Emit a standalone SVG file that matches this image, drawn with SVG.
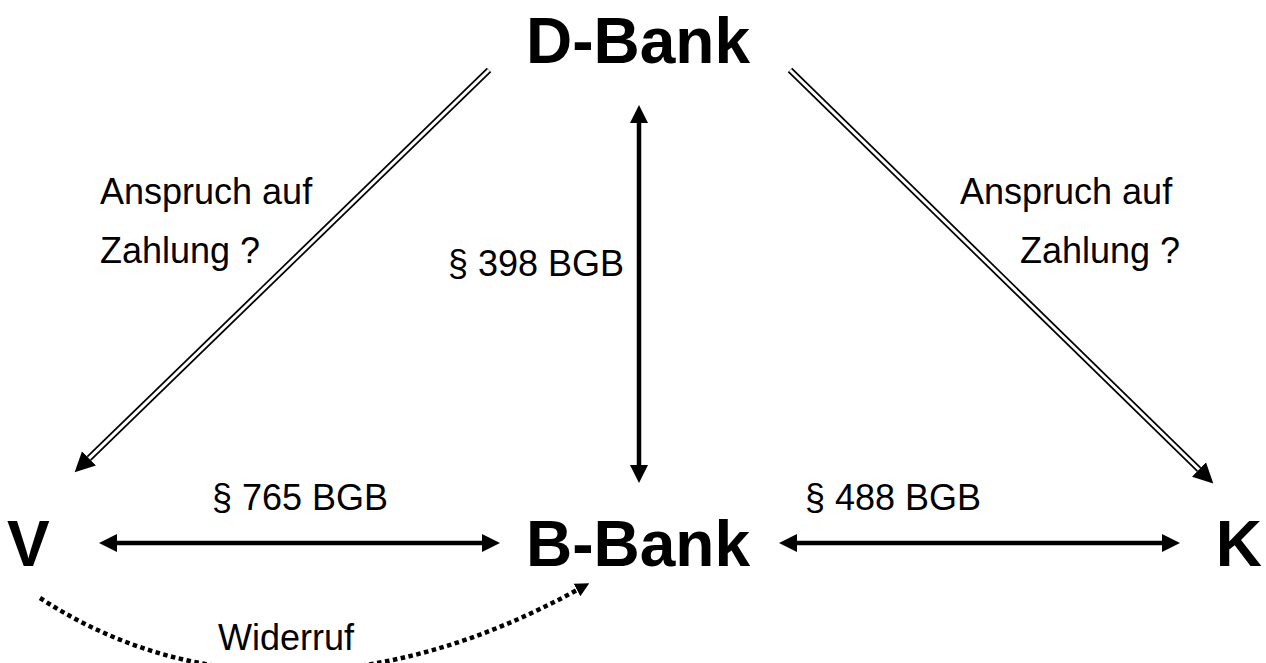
<svg xmlns="http://www.w3.org/2000/svg" width="1266" height="663" viewBox="0 0 1266 663">
<style>
.big{font-family:"Liberation Sans",Arial,sans-serif;font-weight:bold;font-size:64px;fill:#000}
.lbl{font-family:"Liberation Sans",Arial,sans-serif;font-size:36px;fill:#000}
.solid{stroke:#000;stroke-width:4.5;fill:none}
.dbl{stroke:#000;stroke-width:6.5;fill:none}
.dblw{stroke:#fff;stroke-width:3;fill:none}
.dot{stroke:#000;stroke-width:4.5;fill:none;stroke-dasharray:4.5 3.5}
</style>
<defs>
<marker id="ah" markerUnits="userSpaceOnUse" markerWidth="20" markerHeight="20" refX="0" refY="9" orient="auto-start-reverse" viewBox="0 0 20 18">
<path d="M0,0 L18,9 L0,18 Z" fill="#000"/>
</marker>
<marker id="ah2" markerUnits="userSpaceOnUse" markerWidth="22" markerHeight="22" refX="0" refY="10" orient="auto" viewBox="0 0 22 20">
<path d="M0,0 L20,10 L0,20 Z" fill="#000"/>
</marker>
<marker id="ahs" markerUnits="userSpaceOnUse" markerWidth="16" markerHeight="16" refX="0" refY="7" orient="auto" viewBox="0 0 16 14">
<path d="M0,0 L14,7 L0,14 Z" fill="#000"/>
</marker>
</defs>
<g id="node-dbank"><text class="big" x="638" y="63" text-anchor="middle">D-Bank</text></g>
<g id="node-bbank"><text class="big" x="638" y="566" text-anchor="middle">B-Bank</text></g>
<g id="node-v"><text class="big" x="7" y="566">V</text></g>
<g id="node-k"><text class="big" x="1262" y="566" text-anchor="end">K</text></g>
<g id="connectors">
<line class="solid" x1="639" y1="123" x2="639" y2="465" marker-start="url(#ah)" marker-end="url(#ah)"/>
<line class="solid" x1="117" y1="543" x2="482" y2="543" marker-start="url(#ah)" marker-end="url(#ah)"/>
<line class="solid" x1="797" y1="543" x2="1162" y2="543" marker-start="url(#ah)" marker-end="url(#ah)"/>
<path class="dbl" d="M489,70 L89,458.4" marker-end="url(#ah2)"/>
<path class="dblw" d="M489,70 L89,458.4"/>
<path class="dbl" d="M790,70 L1199,469.5" marker-end="url(#ah2)"/>
<path class="dblw" d="M790,70 L1199,469.5"/>
<path class="dot" d="M40,598 C190,696 380,698 577,590" marker-end="url(#ahs)"/>
</g>
<g id="labels">
<text class="lbl" x="100" y="204">Anspruch auf</text>
<text class="lbl" x="100" y="263">Zahlung ?</text>
<text class="lbl" x="960" y="204">Anspruch auf</text>
<text class="lbl" x="1020" y="263">Zahlung ?</text>
<text class="lbl" x="536" y="276" text-anchor="middle">§ 398 BGB</text>
<text class="lbl" x="300" y="510" text-anchor="middle">§ 765 BGB</text>
<text class="lbl" x="893" y="510" text-anchor="middle">§ 488 BGB</text>
<text class="lbl" x="218" y="650">Widerruf</text>
</g>
</svg>
